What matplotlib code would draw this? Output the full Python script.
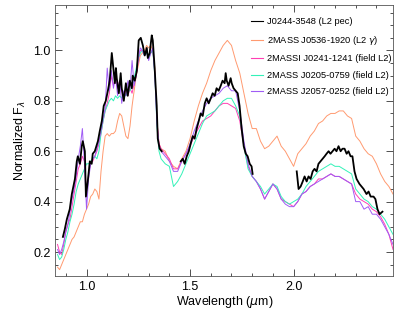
import numpy as np
import matplotlib
matplotlib.use("Agg")
import matplotlib.pyplot as plt
from matplotlib.ticker import MultipleLocator
from matplotlib.lines import Line2D

plt.rcParams["font.family"] = ["Liberation Sans", "DejaVu Sans"]

# ---- shared wavelength grid for the thin comparison spectra (micron) ----
wave_j = np.round(np.arange(0.86, 1.365, 0.01), 2)   # 0.86 .. 1.36
wave_hk = np.round(np.arange(1.38, 2.485, 0.02), 2)  # 1.38 .. 2.48
wave = np.concatenate([wave_j, wave_hk])

# 2MASS J0536-1920 (L2 gamma)
flux_j0536 = [
    0.14, 0.13, 0.15, 0.17, 0.19, 0.21, 0.23, 0.25, 0.26, 0.28,
    0.30, 0.32, 0.32, 0.35, 0.37, 0.39, 0.42, 0.43, 0.45, 0.44,
    0.41, 0.52, 0.60, 0.66, 0.67, 0.66, 0.67, 0.67, 0.68, 0.72,
    0.75, 0.74, 0.70, 0.66, 0.65, 0.70, 0.78, 0.84, 0.90, 0.94,
    0.98, 0.99, 1.00, 1.02, 1.01, 1.02, 1.00, 0.93, 0.72, 0.63,
    0.61,
    0.60, 0.56, 0.54, 0.53, 0.57, 0.60, 0.65, 0.72, 0.78, 0.83,
    0.87, 0.92, 0.96, 0.99, 1.02, 1.04, 1.02, 0.96, 0.91, 0.83,
    0.75, 0.69, 0.69, 0.64, 0.61, 0.62, 0.64, 0.66, 0.62, 0.60,
    0.57, 0.54, 0.59, 0.61, 0.63, 0.66, 0.68, 0.71, 0.72, 0.74,
    0.75, 0.75, 0.76, 0.76, 0.74, 0.73, 0.66, 0.64, 0.61, 0.59,
    0.58, 0.55, 0.51, 0.48, 0.46, 0.43,
]

# 2MASSI J0241-1241 (field L2)
flux_j0241 = [
    0.23, 0.20, 0.19, 0.23, 0.28, 0.31, 0.33, 0.38, 0.43, 0.48,
    0.53, 0.55, 0.58, 0.56, 0.44, 0.51, 0.55, 0.56, 0.58, 0.60,
    0.63, 0.67, 0.72, 0.76, 0.79, 0.83, 0.90, 0.86, 0.89, 0.85,
    0.88, 0.84, 0.81, 0.85, 0.82, 0.85, 0.83, 0.87, 0.90, 0.96,
    1.00, 1.00, 0.98, 0.99, 0.97, 0.99, 1.00, 0.91, 0.72, 0.63,
    0.61,
    0.59, 0.57, 0.53, 0.53, 0.56, 0.59, 0.62, 0.66, 0.69, 0.72,
    0.73, 0.74, 0.76, 0.78, 0.79, 0.79, 0.78, 0.77, 0.72, 0.62,
    0.54, 0.50, 0.48, 0.45, 0.41, 0.44, 0.47, 0.45, 0.41, 0.40,
    0.39, 0.38, 0.40, 0.43, 0.44, 0.46, 0.47, 0.49, 0.49, 0.50,
    0.51, 0.50, 0.50, 0.49, 0.48, 0.47, 0.43, 0.41, 0.40, 0.39,
    0.37, 0.36, 0.34, 0.31, 0.27, 0.21,
]

# 2MASS J0205-0759 (field L2)
flux_j0205 = [
    0.19, 0.17, 0.18, 0.21, 0.25, 0.28, 0.32, 0.35, 0.39, 0.44,
    0.47, 0.49, 0.51, 0.53, 0.55, 0.55, 0.56, 0.57, 0.58, 0.57,
    0.60, 0.67, 0.72, 0.76, 0.78, 0.80, 0.81, 0.80, 0.82, 0.81,
    0.82, 0.81, 0.83, 0.82, 0.84, 0.84, 0.86, 0.89, 0.93, 0.97,
    0.99, 1.00, 0.98, 0.99, 0.97, 0.99, 1.00, 0.90, 0.70, 0.60,
    0.57,
    0.55, 0.54, 0.46, 0.48, 0.51, 0.55, 0.59, 0.63, 0.67, 0.71,
    0.74, 0.75, 0.76, 0.78, 0.80, 0.81, 0.81, 0.78, 0.74, 0.62,
    0.53, 0.50, 0.48, 0.46, 0.43, 0.45, 0.47, 0.46, 0.42, 0.40,
    0.39, 0.40, 0.41, 0.43, 0.46, 0.48, 0.50, 0.52, 0.53, 0.54,
    0.55, 0.54, 0.54, 0.53, 0.52, 0.51, 0.45, 0.43, 0.41, 0.40,
    0.38, 0.37, 0.35, 0.33, 0.30, 0.27,
]

# 2MASS J2057-0252 (field L2)
flux_j2057 = [
    0.21, 0.19, 0.21, 0.24, 0.28, 0.31, 0.36, 0.41, 0.45, 0.50,
    0.57, 0.62, 0.69, 0.55, 0.37, 0.49, 0.55, 0.57, 0.58, 0.61,
    0.64, 0.68, 0.73, 0.77, 0.93, 0.84, 0.92, 0.85, 0.90, 0.82,
    0.88, 0.79, 0.84, 0.82, 0.88, 0.85, 0.96, 0.86, 0.90, 0.97,
    1.01, 1.00, 0.98, 1.00, 0.96, 0.99, 1.01, 0.90, 0.71, 0.62,
    0.60,
    0.58, 0.56, 0.52, 0.52, 0.56, 0.59, 0.63, 0.68, 0.72, 0.76,
    0.79, 0.81, 0.82, 0.83, 0.85, 0.86, 0.84, 0.84, 0.76, 0.64,
    0.55, 0.50, 0.48, 0.45, 0.41, 0.44, 0.47, 0.45, 0.41, 0.39,
    0.38, 0.38, 0.40, 0.43, 0.44, 0.46, 0.47, 0.48, 0.49, 0.50,
    0.51, 0.50, 0.50, 0.49, 0.48, 0.47, 0.40, 0.40, 0.37, 0.38,
    0.35, 0.35, 0.33, 0.30, 0.27, 0.23,
]

# J0244-3548 (L2 pec): own sampling, gaps (nan) in the telluric bands
wave_j0244 = [
    0.886, 0.895, 0.905, 0.919, 0.929, 0.934, 0.944, 0.953, 0.958, 0.968,
    0.977, 0.982, 0.992, 0.997, 1.006, 1.016, 1.025, 1.030, 1.040, 1.055,
    1.064, 1.074, 1.083, 1.093, 1.103, 1.112, 1.122, 1.127, 1.137, 1.142,
    1.146, 1.156, 1.165, 1.170, 1.180, 1.190, 1.199, 1.209, 1.219, 1.223,
    1.233, 1.243, 1.252, 1.262, 1.272, 1.281, 1.291, 1.296, 1.305, 1.315,
    1.320, 1.329, 1.339, 1.344, 1.353, 1.363,
    1.40,
    1.455, 1.465, 1.474, 1.484, 1.494, 1.503, 1.513, 1.522, 1.532, 1.542,
    1.551, 1.561, 1.571, 1.580, 1.590, 1.600, 1.609, 1.619, 1.628, 1.638,
    1.648, 1.657, 1.667, 1.672, 1.677, 1.686, 1.696, 1.701, 1.710, 1.720,
    1.730, 1.739, 1.749, 1.759, 1.769, 1.778, 1.788, 1.797, 1.802,
    1.90,
    2.015, 2.024, 2.034, 2.044, 2.053, 2.063, 2.072, 2.082, 2.092, 2.101,
    2.111, 2.120, 2.130, 2.140, 2.150, 2.159, 2.169, 2.178, 2.188, 2.198,
    2.207, 2.217, 2.227, 2.236, 2.246, 2.256, 2.265, 2.275, 2.284, 2.294,
    2.304, 2.318, 2.328, 2.338, 2.352, 2.362, 2.372, 2.386, 2.395, 2.405,
    2.415, 2.429,
]
flux_j0244 = [
    0.26, 0.29, 0.33, 0.37, 0.43, 0.45, 0.49, 0.56, 0.58, 0.55,
    0.62, 0.64, 0.60, 0.42, 0.48, 0.56, 0.55, 0.59, 0.60, 0.64,
    0.68, 0.72, 0.78, 0.80, 0.84, 0.88, 0.99, 0.95, 0.87, 0.93,
    0.89, 0.83, 0.91, 0.85, 0.80, 0.87, 0.82, 0.88, 0.85, 0.90,
    0.88, 0.92, 1.04, 1.05, 1.02, 0.98, 1.01, 0.97, 0.99, 1.06,
    1.04, 0.93, 0.78, 0.65, 0.61, 0.60,
    np.nan,
    0.56, 0.57, 0.55, 0.58, 0.60, 0.63, 0.66, 0.65, 0.69, 0.72,
    0.75, 0.74, 0.79, 0.81, 0.79, 0.81, 0.83, 0.82, 0.85, 0.84,
    0.86, 0.88, 0.87, 0.91, 0.88, 0.86, 0.89, 0.87, 0.85, 0.84,
    0.83, 0.78, 0.69, 0.62, 0.59, 0.58, 0.55, 0.54, 0.51,
    np.nan,
    0.52, 0.45, 0.46, 0.48, 0.50, 0.48, 0.50, 0.49, 0.52, 0.53,
    0.52, 0.55, 0.56, 0.57, 0.58, 0.59, 0.60, 0.59, 0.60, 0.61,
    0.60, 0.62, 0.60, 0.61, 0.61, 0.59, 0.60, 0.58, 0.58, 0.52,
    0.49, 0.47, 0.46, 0.45, 0.43, 0.44, 0.42, 0.42, 0.41, 0.37,
    0.35, 0.36,
]

labels = [
    "J0244-3548 (L2 pec)",
    r"2MASS J0536-1920 (L2 $\gamma$)",
    "2MASSI J0241-1241 (field L2)",
    "2MASS J0205-0759 (field L2)",
    "2MASS J2057-0252 (field L2)",
]
colors = ["black", "#ff9a70", "#ff3fb4", "#33f2b8", "#a05cf5"]

fig = plt.figure(figsize=(3.99, 3.19), dpi=100)
ax = fig.add_axes([0.139, 0.135, 0.846, 0.849])

ax.plot(wave, flux_j0536, color=colors[1], lw=0.7, zorder=2)
ax.plot(wave, flux_j0241, color=colors[2], lw=0.7, zorder=3)
ax.plot(wave, flux_j0205, color=colors[3], lw=0.7, zorder=3)
ax.plot(wave, flux_j2057, color=colors[4], lw=0.7, zorder=3)
ax.plot(wave_j0244, flux_j0244, color=colors[0], lw=1.3, zorder=5)

ax.set_xlim(0.85, 2.48)
ax.set_ylim(0.105, 1.18)
ax.xaxis.set_major_locator(MultipleLocator(0.5))
ax.xaxis.set_minor_locator(MultipleLocator(0.1))
ax.yaxis.set_major_locator(MultipleLocator(0.2))
ax.yaxis.set_minor_locator(MultipleLocator(0.05))
ax.tick_params(which="both", direction="in", top=True, right=True,
               labelsize=9, width=0.6, color="#333333")
ax.tick_params(which="major", length=5)
ax.tick_params(which="minor", length=2.5)
for s in ax.spines.values():
    s.set_linewidth(0.6)
    s.set_color("#555555")

ax.set_xlabel(r"Wavelength ($\mu$m)", fontsize=9, labelpad=1)
ax.set_ylabel(r"Normalized F$_\lambda$", fontsize=9, labelpad=4)

# legend: thin sample lines for every entry, as in the original
handles = [Line2D([], [], color=c, lw=0.8) for c in colors]
ax.legend(handles, labels, loc="upper right",
          bbox_to_anchor=(1.012, 0.975), frameon=False, fontsize=6.7,
          handlelength=1.3, handletextpad=0.4, labelspacing=0.8,
          borderaxespad=0.2)

fig.savefig("out.png", dpi=100)
